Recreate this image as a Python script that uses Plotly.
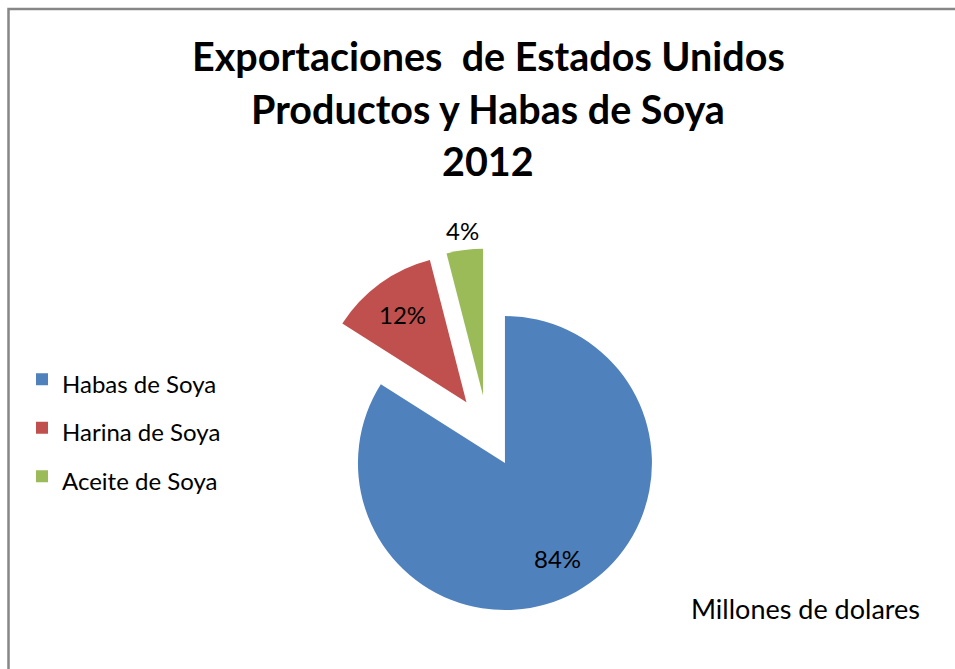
import math
import plotly.graph_objects as go

# Export shares of US soybean products, 2012 (percent of value in millions of dollars)
categories = ["Habas de Soya", "Harina de Soya", "Aceite de Soya"]
shares = [84, 12, 4]
slice_colors = ["#4F81BD", "#C0504D", "#9BBB59"]
label_inside = [True, True, False]
title_lines = ["Exportaciones\u00a0 de Estados Unidos", "Productos y Habas de Soya", "2012"]
units_note = "Millones de dolares"

FONT = "Lato"
W, H = 955, 669

# Pie geometry (pixels): centre, radius and explode distance
CX, CY, R, PULL = 487.6, 431.5, 147.0, 0.245
half = R * (1 + PULL)
dom_x = [(CX - half) / W, (CX + half) / W]
dom_y = [1 - (CY + half) / H, 1 - (CY - half) / H]

legend_labels = [f'<span style="font-size:24px">{c}</span>' for c in categories]

fig = go.Figure(
    go.Pie(
        labels=legend_labels,
        values=shares,
        sort=False,
        direction="clockwise",
        rotation=0,
        pull=[PULL] * len(shares),
        marker=dict(colors=slice_colors, line=dict(width=0)),
        textinfo="none",
        domain=dict(x=dom_x, y=dom_y),
        hovertemplate="%{label}: %{value}<extra></extra>",
    )
)

annotations = []

# percentage labels placed along each slice's mid-angle
total = sum(shares)
cum = 0
for v, inside in zip(shares, label_inside):
    mid = (cum + v / 2) / total
    cum += v
    theta = 2 * math.pi * mid
    dist = R * (PULL + (0.74 if inside else 1.13))
    px = CX + dist * math.sin(theta)
    py = CY - dist * math.cos(theta)
    annotations.append(dict(
        text=f"{round(100 * v / total)}%", x=px / W, y=1 - py / H,
        xref="paper", yref="paper", xanchor="center", yanchor="middle",
        showarrow=False, font=dict(family=FONT, size=24, color="black"),
    ))

for i, line in enumerate(title_lines):
    annotations.append(dict(
        text=f"<b>{line}</b>", x=0.511, y=1 - (56 + 52 * i) / H,
        xref="paper", yref="paper", xanchor="center", yanchor="middle",
        showarrow=False, font=dict(family=FONT, size=39.5, color="black"),
    ))
annotations.append(dict(
    text=units_note, x=805 / W, y=1 - 608 / H, xref="paper", yref="paper",
    xanchor="center", yanchor="middle", showarrow=False,
    font=dict(family=FONT, size=27, color="black"),
))

fig.update_layout(
    width=W,
    height=H,
    margin=dict(l=0, r=0, t=0, b=0, autoexpand=False),
    paper_bgcolor="white",
    plot_bgcolor="white",
    font=dict(family=FONT, color="black"),
    showlegend=True,
    legend=dict(
        x=22 / W, y=1 - 350 / H, xanchor="left", yanchor="top",
        font=dict(family=FONT, size=35, color="black"),
        bgcolor="rgba(0,0,0,0)", itemclick=False,
    ),
    annotations=annotations,
    shapes=[dict(
        type="rect", xref="paper", yref="paper",
        x0=8.5 / W, x1=1.2, y0=-0.2, y1=1 - 9 / H,
        line=dict(color="#878787", width=2.5), fillcolor="rgba(0,0,0,0)",
    )],
)

fig.write_html("out.html")
